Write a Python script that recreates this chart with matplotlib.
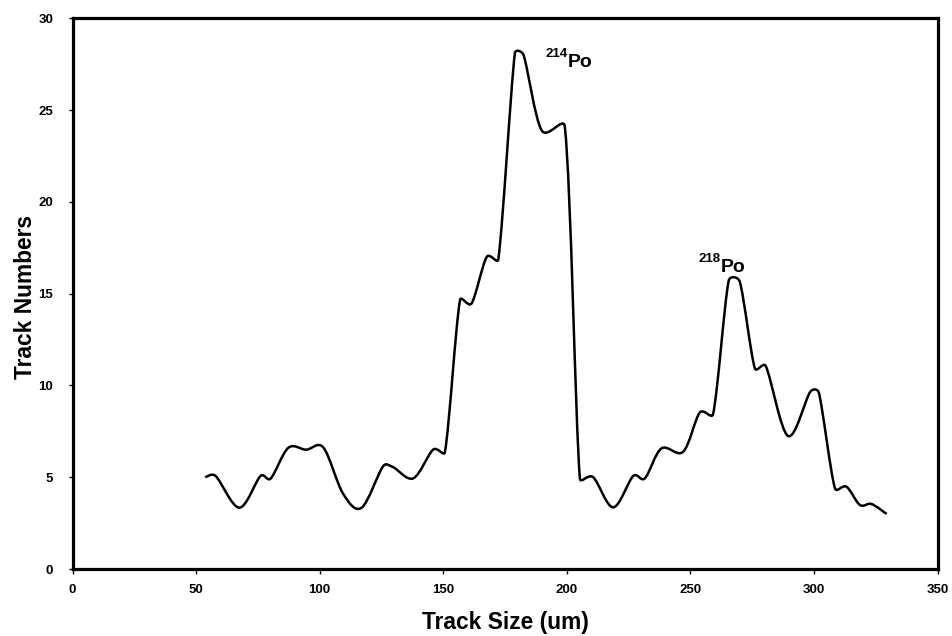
import numpy as np
import matplotlib
matplotlib.use("Agg")
import matplotlib.pyplot as plt
from matplotlib.path import Path
from matplotlib.patches import PathPatch

plt.rcParams['font.family'] = ['Liberation Sans', 'DejaVu Sans']

# ---- data ----
track_size = [53.7, 57.9, 67.5, 76.1, 80.2, 87.3, 94.5, 101.5, 109.5, 117.0,
              125.7, 129.7, 137.9, 145.9, 150.7, 156.8, 161.5, 167.6, 172.3,
              179.0, 182.5, 189.8, 199.2, 205.3, 210.7, 218.8, 226.9, 231.6,
              238.3, 247.1, 253.8, 259.2, 265.5, 270.0, 276.1, 280.5, 289.5,
              298.5, 302.0, 308.5, 313.2, 318.6, 323.3, 329.4]
track_numbers = [5.0, 5.07, 3.34, 5.07, 4.93, 6.6, 6.5, 6.62, 4.1, 3.34,
                 5.6, 5.55, 4.94, 6.5, 6.38, 14.65, 14.47, 17.0, 16.87,
                 28.1, 28.0, 23.9, 24.1, 4.94, 5.0, 3.36, 5.07, 4.94,
                 6.57, 6.39, 8.52, 8.44, 15.7, 15.65, 10.93, 11.06, 7.25,
                 9.65, 9.6, 4.4, 4.48, 3.49, 3.54, 3.0]

x_ticks = [0, 50, 100, 150, 200, 250, 300, 350]
y_ticks = [0, 5, 10, 15, 20, 25, 30]

peak_labels = ['214', '218']
peak_label_x = [200.2, 262.2]
peak_label_y = [27.33, 16.18]

x_label = 'Track Size (um)'
y_label = 'Track Numbers'

# ---- figure ----
fig = plt.figure(figsize=(9.52, 6.36), dpi=100)
ax = fig.add_axes([72.5 / 952, 1 - 569 / 636, 865 / 952, (569 - 18.3) / 636])
ax.set_xlim(0, 350)
ax.set_ylim(0, 30)

# Excel-style smoothed line: cubic Bezier segments, control arms limited by
# neighbouring segment lengths (computed in display space)
pts = ax.transData.transform(np.column_stack([track_size, track_numbers]))
n = len(pts)


def dist(a, b):
    return float(np.hypot(*(a - b)))


verts = [pts[0]]
codes = [Path.MOVETO]
for i in range(n - 1):
    p0 = pts[i - 1] if i > 0 else pts[i]
    p1 = pts[i]
    p2 = pts[i + 1]
    p3 = pts[i + 2] if i + 2 < n else pts[i + 1]
    d12 = dist(p1, p2)
    d02 = dist(p0, p2)
    d13 = dist(p1, p3)
    f1 = min(1 / 6, 0.5 * d12 / d02) if d02 > 0 else 0
    f2 = min(1 / 6, 0.5 * d12 / d13) if d13 > 0 else 0
    c1 = p1 + (p2 - p0) * f1
    c2 = p2 - (p3 - p1) * f2
    verts += [c1, c2, p2]
    codes += [Path.CURVE4] * 3
data_verts = ax.transData.inverted().transform(np.array(verts))
path = Path(data_verts, codes)
ax.add_patch(PathPatch(path, fill=False, edgecolor='black', lw=1.8,
                       capstyle='butt', joinstyle='round'))

ax.set_xlim(0, 350)
ax.set_ylim(0, 30)
ax.set_xticks(x_ticks)
ax.set_yticks(y_ticks)
ax.set_xticklabels([str(t) for t in x_ticks], fontweight='bold')
ax.set_yticklabels([str(t) for t in y_ticks], fontweight='bold')
ax.tick_params(axis='x', direction='out', length=3.5, width=1, labelsize=9.5, pad=7.5)
ax.tick_params(axis='y', direction='out', length=3, width=1, labelsize=9.5, pad=11)
for sp in ax.spines.values():
    sp.set_linewidth(2.3)
    sp.set_color('black')

# peak annotations
for lab, lx, ly in zip(peak_labels, peak_label_x, peak_label_y):
    ax.text(lx, ly, 'Po', ha='left', va='baseline', fontsize=14, fontweight='bold')
    ax.text(lx, ly + 10 / 18.36, lab, ha='right', va='baseline', fontsize=9.5,
            fontweight='bold')

fig.text(505.5 / 952, 6.7 / 636, x_label, ha='center', va='baseline',
         fontsize=16.4, fontweight='bold')
fig.text(31.7 / 952, (636 - 297.3) / 636, y_label, ha='center', va='baseline',
         rotation=90, rotation_mode='anchor', fontsize=16.4, fontweight='bold')

fig.savefig('out.png', dpi=100)
